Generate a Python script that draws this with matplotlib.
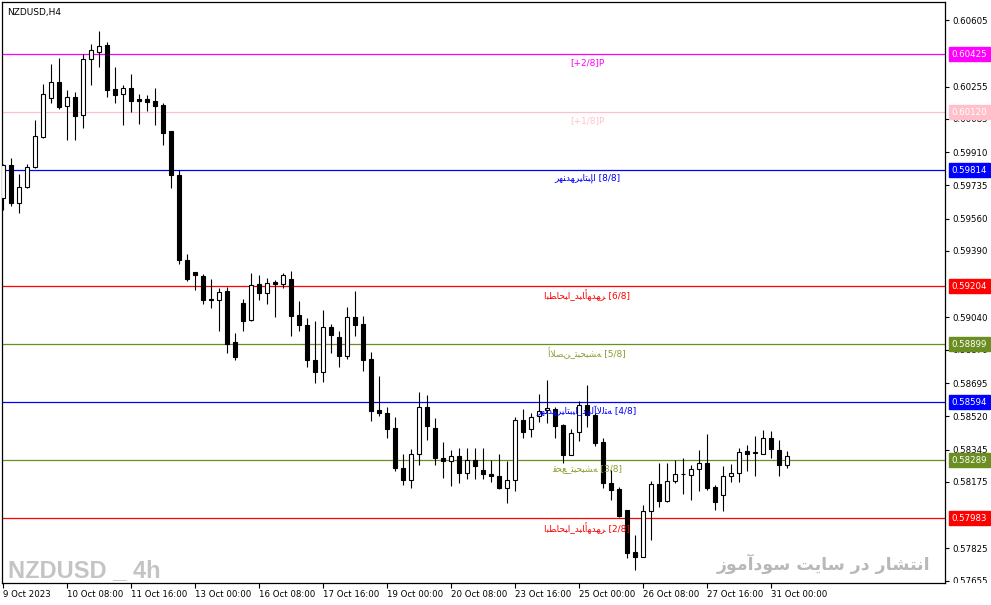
"""NZDUSD H4 candlestick chart with Murrey Math levels (MT4 style)."""

import matplotlib
import numpy as np

matplotlib.use("Agg")
import matplotlib.pyplot as plt
from matplotlib.transforms import Bbox, TransformedBbox


# --- data ---------------------------------------------------------------------
OPEN = [
    0.59671, 0.59841, 0.59645, 0.59724, 0.59831, 0.59992, 0.60194, 0.60278, 0.60152, 0.60199,
    0.60104, 0.60399, 0.60436, 0.60472, 0.60241, 0.60215, 0.60246, 0.60188, 0.60188, 0.60178,
    0.60159, 0.60022, 0.59790, 0.59342, 0.59279, 0.59256, 0.59136, 0.59134, 0.59178, 0.58911,
    0.59115, 0.59026, 0.59214, 0.59169, 0.59225, 0.59218, 0.59244, 0.59052, 0.59000, 0.58817,
    0.58751, 0.58990, 0.58937, 0.58840, 0.59042, 0.59005, 0.58822, 0.58554, 0.58535, 0.58456,
    0.58247, 0.58186, 0.58324, 0.58571, 0.58460, 0.58303, 0.58287, 0.58313, 0.58224, 0.58292,
    0.58240, 0.58214, 0.58204, 0.58141, 0.58183, 0.58502, 0.58455, 0.58523, 0.58554, 0.58559,
    0.58474, 0.58319, 0.58439, 0.58580, 0.58528, 0.58384, 0.58171, 0.58136, 0.58025, 0.57808,
    0.57780, 0.58023, 0.58166, 0.58074, 0.58181, 0.58217, 0.58213, 0.58245, 0.58277, 0.58150,
    0.58107, 0.58206, 0.58224, 0.58337, 0.58328, 0.58324, 0.58404, 0.58345, 0.58264,
]
HIGH = [
    0.59845, 0.59880, 0.59796, 0.59848, 0.60080, 0.60269, 0.60374, 0.60406, 0.60237, 0.60227,
    0.60425, 0.60479, 0.60548, 0.60490, 0.60358, 0.60264, 0.60322, 0.60216, 0.60211, 0.60250,
    0.60167, 0.60022, 0.59815, 0.59375, 0.59279, 0.59270, 0.59244, 0.59194, 0.59201, 0.58958,
    0.59136, 0.59272, 0.59262, 0.59249, 0.59235, 0.59275, 0.59282, 0.59126, 0.59035, 0.59021,
    0.59079, 0.59005, 0.58969, 0.59094, 0.59178, 0.59047, 0.58857, 0.58733, 0.58571, 0.58514,
    0.58320, 0.58350, 0.58648, 0.58634, 0.58509, 0.58383, 0.58341, 0.58352, 0.58352, 0.58352,
    0.58355, 0.58289, 0.58324, 0.58284, 0.58514, 0.58557, 0.58536, 0.58638, 0.58713, 0.58570,
    0.58478, 0.58455, 0.58603, 0.58686, 0.58538, 0.58405, 0.58236, 0.58150, 0.58025, 0.57896,
    0.58051, 0.58178, 0.58273, 0.58277, 0.58292, 0.58303, 0.58263, 0.58342, 0.58428, 0.58157,
    0.58256, 0.58270, 0.58354, 0.58368, 0.58418, 0.58446, 0.58442, 0.58393, 0.58337,
]
LOW = [
    0.59603, 0.59629, 0.59592, 0.59719, 0.59828, 0.59982, 0.60166, 0.60139, 0.59976, 0.59976,
    0.60039, 0.60265, 0.60360, 0.60202, 0.60166, 0.60055, 0.60122, 0.60060, 0.60127, 0.60055,
    0.59945, 0.59719, 0.59324, 0.59230, 0.59186, 0.59112, 0.59091, 0.58970, 0.58855, 0.58817,
    0.58970, 0.59021, 0.59131, 0.59112, 0.59044, 0.59197, 0.58944, 0.58970, 0.58782, 0.58693,
    0.58699, 0.58855, 0.58782, 0.58819, 0.58944, 0.58756, 0.58493, 0.58521, 0.58404, 0.58233,
    0.58160, 0.58144, 0.58265, 0.58395, 0.58265, 0.58197, 0.58155, 0.58170, 0.58188, 0.58188,
    0.58190, 0.58177, 0.58136, 0.58062, 0.58125, 0.58404, 0.58413, 0.58491, 0.58484, 0.58406,
    0.58277, 0.58319, 0.58390, 0.58465, 0.58365, 0.58143, 0.58079, 0.57989, 0.57774, 0.57711,
    0.57778, 0.57869, 0.58044, 0.58070, 0.58171, 0.58111, 0.58079, 0.58127, 0.58130, 0.58025,
    0.58021, 0.58174, 0.58174, 0.58233, 0.58206, 0.58322, 0.58303, 0.58206, 0.58247,
]
CLOSE = [
    0.59841, 0.59645, 0.59726, 0.59831, 0.59994, 0.60215, 0.60278, 0.60150, 0.60199, 0.60102,
    0.60400, 0.60446, 0.60467, 0.60239, 0.60213, 0.60246, 0.60181, 0.60181, 0.60176, 0.60155,
    0.60013, 0.59792, 0.59340, 0.59245, 0.59261, 0.59134, 0.59133, 0.59176, 0.58902, 0.58834,
    0.59023, 0.59213, 0.59169, 0.59223, 0.59216, 0.59262, 0.59049, 0.59002, 0.58814, 0.58751,
    0.58988, 0.58950, 0.58840, 0.59040, 0.59000, 0.58814, 0.58550, 0.58536, 0.58453, 0.58247,
    0.58186, 0.58320, 0.58570, 0.58469, 0.58301, 0.58285, 0.58313, 0.58224, 0.58292, 0.58261,
    0.58214, 0.58204, 0.58144, 0.58183, 0.58502, 0.58439, 0.58517, 0.58550, 0.58566, 0.58469,
    0.58317, 0.58430, 0.58580, 0.58528, 0.58382, 0.58169, 0.58132, 0.57993, 0.57799, 0.57778,
    0.58023, 0.58166, 0.58074, 0.58181, 0.58217, 0.58219, 0.58245, 0.58277, 0.58143, 0.58070,
    0.58206, 0.58224, 0.58333, 0.58324, 0.58331, 0.58404, 0.58349, 0.58264, 0.58312,
]

X_TICK_BARS = [0, 8, 16, 24, 32, 40, 48, 56, 64, 72, 80, 88, 96]
X_TICK_LABELS = [
    "9 Oct 2023", "10 Oct 08:00", "11 Oct 16:00", "13 Oct 00:00", "16 Oct 08:00",
    "17 Oct 16:00", "19 Oct 00:00", "20 Oct 08:00", "23 Oct 16:00", "25 Oct 00:00",
    "26 Oct 08:00", "27 Oct 16:00", "31 Oct 00:00",
]
Y_TICKS = [
    0.60605, 0.60255, 0.60085, 0.59910, 0.59735, 0.59560, 0.59390, 0.59040,
    0.58870, 0.58695, 0.58520, 0.58345, 0.58175, 0.57825, 0.57655,
]

# Murrey Math levels (the Persian tags come out garbled in the terminal as well)
TAG_8 = "\uFEAE\uFEEC\uFEE8\uFEAA\uFEEC\uFEAE\uFEF4\uFE8E\uFE98\uFE92\uFE88\uFE8D"
TAG_6 = "\uFE8D\uFE92\uFEC4\uFE8E\uFEA4\uFE92\uFE8D_\uFEAA\uFE92\uFE8E\uFE83\uFEEC\uFEAA\uFEEC\uFEAE"
TAG_5 = "\uFE83\uFEFC\uFEBC\uFEE6_\uFE98\uFE92\uFEA4\uFE92\uFEB8\uFEEA"
TAG_4 = "\uFEAE\uFEEC\uFEE8\uFEAA\uFEEC\uFEAE\uFEF4\uFE8E\uFE98\uFE92\uFEF4\uFE8D_\uFEAA\uFEED\uFEDF\uFE82\uFEFB\uFEDF\uFE98\uFEEA"
TAG_3 = "\uFED7\uFEA4\uFECA_\uFE98\uFE92\uFEA4\uFE92\uFEB8\uFEEA"

LEVEL_PRICES = [0.60425, 0.60120, 0.59814, 0.59204, 0.58899, 0.58594, 0.58289, 0.57983]
LEVEL_TEXTS = [
    "[+2/8]P", "[+1/8]P", f"{TAG_8} [8/8]", f"{TAG_6} [6/8]",
    f"{TAG_5} [5/8]", f"{TAG_4} [4/8]", f"{TAG_3} [3/8]", f"{TAG_6} [2/8]",
]
LEVEL_COLORS = ["#ff00ff", "#ffc0cb", "#0000ff", "#ff0000", "#6b8e23", "#0000ff", "#6b8e23", "#ff0000"]
LEVEL_TEXT_COLORS = ["#ff00ff", "#ffc0cb", "#0000ff", "#ff0000", "#8f9a2c", "#0000ff", "#8f9a2c", "#ff0000"]

SYMBOL_TITLE = "NZDUSD,H4"
WATERMARK_LEFT = "NZDUSD _ 4h"
# "انتشار در سایت سودآموز" in presentation forms, visual order (matplotlib has no shaping)
WATERMARK_RIGHT = (
    "\uFEAF\uFEEE\uFEE3\uFE81\uFEA9\uFEEE\uFEB3 \uFE96\uFEF3\uFE8E\uFEB3 "
    "\uFEAD\uFEA9 \uFEAD\uFE8E\uFEB8\uFE98\uFEE7\uFE8D"
)


def draw_candles(ax):
    o = np.asarray(OPEN)
    h = np.asarray(HIGH)
    l = np.asarray(LOW)
    c = np.asarray(CLOSE)
    x = np.arange(o.size)
    up = c >= o

    ax.vlines(x, l, h, color="black", linewidth=0.8, zorder=2)
    bottom = np.minimum(o, c)
    height = np.abs(c - o)
    ax.bar(x[up], height[up], bottom=bottom[up], width=0.56, color="white",
           edgecolor="black", linewidth=0.8, zorder=3)
    ax.bar(x[~up], height[~up], bottom=bottom[~up], width=0.56, color="black",
           edgecolor="black", linewidth=0.8, zorder=3)


def main():
    plt.rcParams["font.family"] = ["DejaVu Sans"]
    fig = plt.figure(figsize=(9.91, 6.05), dpi=100)
    ax = fig.add_axes([2 / 991, 22 / 605, 943 / 991, 581 / 605])
    ax.set_xlim(-0.125, 117.75)
    ax.set_ylim(0.57643, 0.60700)

    for spine in ax.spines.values():
        spine.set_color("black")
        spine.set_linewidth(0.9)

    # Murrey levels
    for price, text, color, tcolor in zip(LEVEL_PRICES, LEVEL_TEXTS, LEVEL_COLORS, LEVEL_TEXT_COLORS):
        ax.axhline(price, color=color, linewidth=0.9, zorder=1)
        ax.annotate(text, xy=(73, price), xytext=(0, -2.5), textcoords="offset points",
                    ha="center", va="top", fontsize=6.5, color=tcolor, zorder=4)

    draw_candles(ax)

    # axes ticks
    ax.yaxis.tick_right()
    ax.set_yticks(Y_TICKS)
    ax.set_yticklabels([f"{v:.5f}" for v in Y_TICKS])
    ax.tick_params(axis="y", direction="out", length=3, width=0.8, pad=2.5, labelsize=6.2)
    ax.set_xticks(X_TICK_BARS)
    ax.set_xticklabels(X_TICK_LABELS, ha="left")
    ax.tick_params(axis="x", direction="out", length=3.5, width=0.8, pad=1.5, labelsize=6.2)

    clip = TransformedBbox(Bbox([[0.0, 22 / 605], [1.0, 1.0]]), fig.transFigure)
    for tick in ax.yaxis.get_major_ticks():
        if abs(tick.get_loc() - 0.57655) < 1e-9:
            tick.label2.set_clip_on(True)
            tick.label2.set_clip_box(clip)

    # price tags on the right axis
    for price, color in zip(LEVEL_PRICES, LEVEL_COLORS):
        ax.annotate(f"{price:.5f}", xy=(1.0, price), xycoords=("axes fraction", "data"),
                    xytext=(4.8, 0), textcoords="offset points", ha="left", va="center",
                    fontsize=6.2, color="white", annotation_clip=False, zorder=6,
                    bbox=dict(boxstyle="square,pad=0.3", fc=color, ec=color))

    ax.text(0.0053, 0.9905, SYMBOL_TITLE, transform=ax.transAxes, ha="left", va="top",
            fontsize=6.5, color="black")
    ax.text(0.0064, 0.0103, WATERMARK_LEFT, transform=ax.transAxes, ha="left", va="baseline",
            fontsize=17, fontweight="bold", color="#c4c4c4",
            family=["Liberation Sans", "DejaVu Sans"])
    ax.text(0.984, 0.0224, WATERMARK_RIGHT, transform=ax.transAxes, ha="right", va="baseline",
            fontsize=12.5, fontweight="bold", color="#b8b8b8")

    fig.savefig("out.png", dpi=100)
    plt.close(fig)


if __name__ == "__main__":
    main()
